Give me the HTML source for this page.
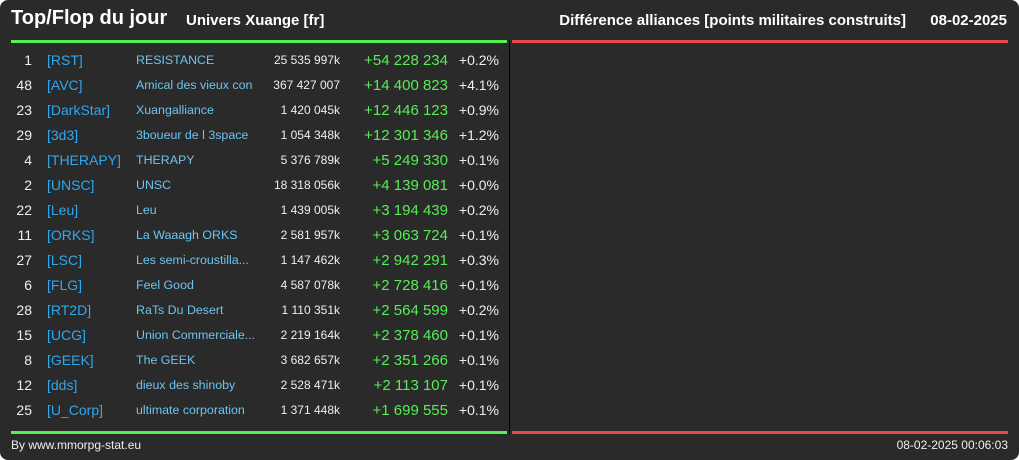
<!DOCTYPE html>
<html><head><meta charset="utf-8">
<style>
html,body{margin:0;padding:0;background:#fff;}
#root{position:relative;width:1019px;height:460px;background:#2a2a2a;border-radius:8px;overflow:hidden;font-family:"Liberation Sans",sans-serif;color:#eee;}
.abs{position:absolute;white-space:nowrap;}
.row{position:absolute;left:0;width:510px;height:25px;line-height:25px;}
.c{position:absolute;top:0;white-space:nowrap;}
</style></head><body>
<div id="root">
  <div class="abs" style="left:11px;top:7px;font-size:20px;font-weight:bold;color:#fff;">Top/Flop du jour</div>
  <div class="abs" style="left:186px;top:12px;font-size:15px;font-weight:bold;color:#fff;">Univers Xuange [fr]</div>
  <div class="abs" style="right:113px;top:12px;font-size:15px;font-weight:bold;color:#fff;">Différence alliances [points militaires construits]</div>
  <div class="abs" style="right:12px;top:12px;font-size:15px;font-weight:bold;color:#fff;">08-02-2025</div>
  <div class="abs" style="left:11px;top:40px;width:496px;height:3px;background:#55ee55;"></div>
  <div class="abs" style="left:512px;top:40px;width:496px;height:3px;background:#e84a4a;"></div>
  <div class="abs" style="left:11px;top:431px;width:496px;height:3px;background:#55ee55;"></div>
  <div class="abs" style="left:512px;top:431px;width:496px;height:3px;background:#e84a4a;"></div>
  <div class="abs" style="left:509px;top:40px;width:1px;height:394px;background:#000;"></div>
  <div id="rows"></div>
  <div class="abs" style="left:11px;top:438px;font-size:12px;color:#eee;">By www.mmorpg-stat.eu</div>
  <div class="abs" style="right:11px;top:438px;font-size:12px;color:#eee;">08-02-2025 00:06:03</div>
</div>
<script>
const ranks=[1,48,23,29,4,2,22,11,27,6,28,15,8,12,25];
const tags=["[RST]","[AVC]","[DarkStar]","[3d3]","[THERAPY]","[UNSC]","[Leu]","[ORKS]","[LSC]","[FLG]","[RT2D]","[UCG]","[GEEK]","[dds]","[U_Corp]"];
const names=["RESISTANCE","Amical des vieux con","Xuangalliance","3boueur de l 3space","THERAPY","UNSC","Leu","La Waaagh ORKS","Les semi-croustilla...","Feel Good","RaTs Du Desert","Union Commerciale...","The GEEK","dieux des shinoby","ultimate corporation"];
const totals=["25 535 997k","367 427 007","1 420 045k","1 054 348k","5 376 789k","18 318 056k","1 439 005k","2 581 957k","1 147 462k","4 587 078k","1 110 351k","2 219 164k","3 682 657k","2 528 471k","1 371 448k"];
const diffs=["+54 228 234","+14 400 823","+12 446 123","+12 301 346","+5 249 330","+4 139 081","+3 194 439","+3 063 724","+2 942 291","+2 728 416","+2 564 599","+2 378 460","+2 351 266","+2 113 107","+1 699 555"];
const pcts=["+0.2%","+4.1%","+0.9%","+1.2%","+0.1%","+0.0%","+0.2%","+0.1%","+0.3%","+0.1%","+0.2%","+0.1%","+0.1%","+0.1%","+0.1%"];
const container=document.getElementById('rows');
function cell(txt,style){const d=document.createElement('div');d.className='c';d.textContent=txt;d.style.cssText=style;return d;}
ranks.forEach((r,i)=>{
  const row=document.createElement('div');
  row.className='row';
  
  
  row.style.top=(48+i*25)+'px';
  const a=cell(String(r),'right:478px;font-size:14px;color:#eee;');
  
  
  const b=cell(tags[i],'left:47px;font-size:14px;color:#2ea8ee;');
  
  
  const c=cell(names[i],'left:136px;font-size:12.4px;color:#6cc4f0;');
  
  
  const d=cell(totals[i],'right:170px;font-size:12px;color:#eee;');
  
  
  const e=cell(diffs[i],'right:62px;font-size:15px;color:#55ee55;');
  
  
  const f=cell(pcts[i],'right:11px;font-size:14px;color:#eee;');
  
  
  row.append(a,b,c,d,e,f);
  container.appendChild(row);
});
</script>
</body></html>
